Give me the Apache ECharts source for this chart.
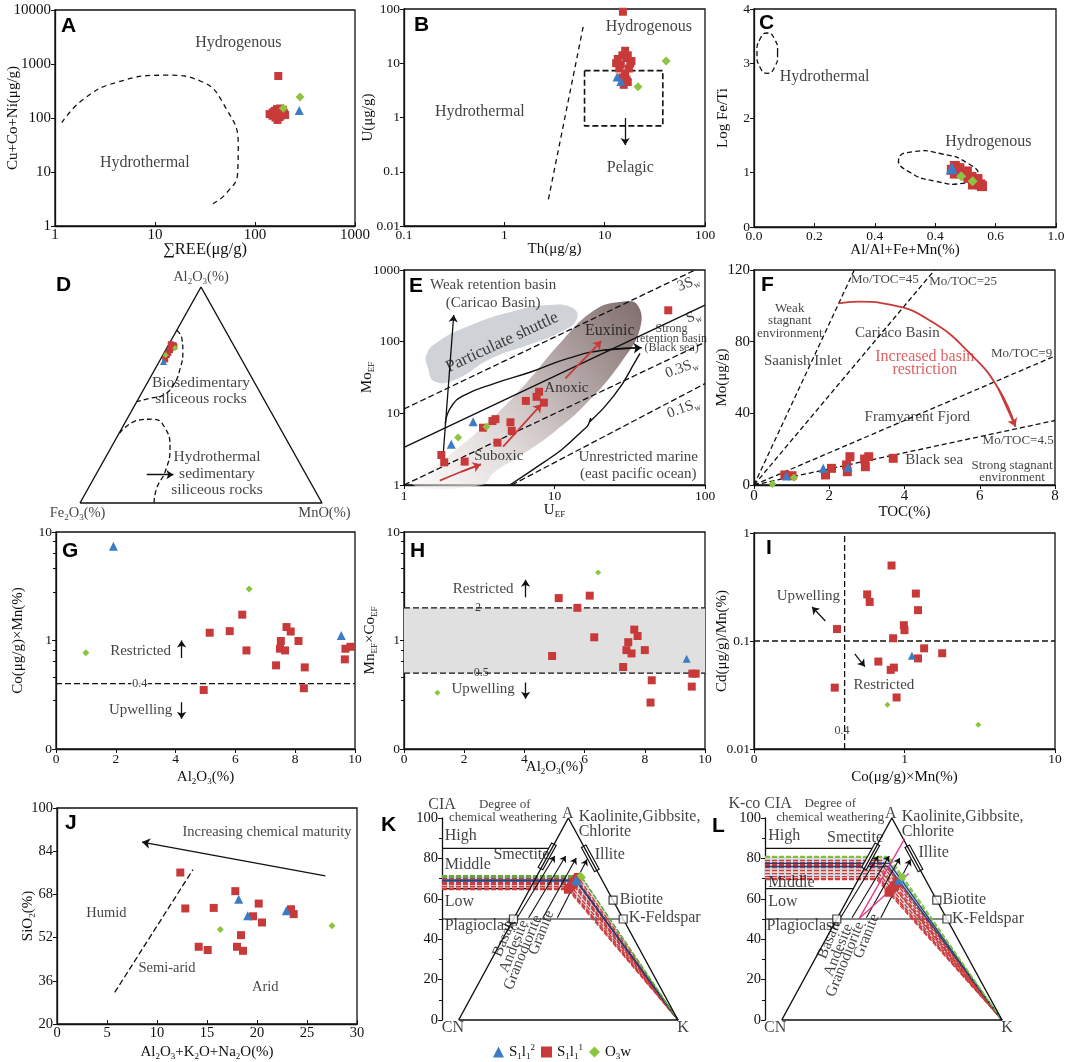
<!DOCTYPE html>
<html><head><meta charset="utf-8">
<script src="https://cdn.jsdelivr.net/npm/echarts@6.0.0/dist/echarts.min.js"></script>
<style>html,body{margin:0;padding:0;background:#fff;}#chart{width:1065px;height:1062px;}</style>
</head><body><div id="chart"></div>
<script>
// ================= DATA =================
// A : Cu+Co+Ni vs REE
const aRed=[[140,118],[150,126],[158,136],[166,146],[172,120],[180,110],[186,130],[195,122],[200,114],[160,102],[168,92],[176,104],[150,110],[190,142],[178,150],[155,128],[171,600]];
const aBlue=[[277,138]];
const aGreen=[[192,152],[282,245]];
const aBoundary=[[1.17,82],[1.92,222],[4.1,455],[13,620],[28,490],[52,145],[68,30],[67,9.6],[52,4.1],[38,2.6]];
const aNotes=[[68,2500,'Hydrogenous'],[7.9,15,'Hydrothermal']];
// B : U vs Th
const bRed=[[15.2,89],[16,17],[15,14],[13.5,12],[18.5,11],[14.5,9.5],[17.5,8],[16,6.5],[15,5.5],[17,4.5],[15.5,4],[18,10],[13,10],[16.5,12.5],[14,8],[17,14],[16.5,5]];
const bBlue=[[13.3,5.6],[14.5,4.6]];
const bGreen=[[41,11],[21.5,3.7]];
const bBoundary=[[2.75,0.031],[6.2,54]];
const bBox=[[6.3,7.3],[38,7.3],[38,0.7],[6.3,0.7],[6.3,7.3]];
const bArrow=[[16,0.98],[16,0.31]];
const bNotes=[[27.5,47,'Hydrogenous'],[0.57,1.29,'Hydrothermal'],[18,0.117,'Pelagic']];
// C : Log Fe/Ti vs Al/(Al+Fe+Mn)
const cTickLabels=['0.0','0.2','0.4','0.4','0.6','1.0'];
const cRed=[[0.655,1.05],[0.665,0.98],[0.68,1.08],[0.69,1.0],[0.70,0.95],[0.71,0.90],[0.72,0.92],[0.73,0.85],[0.74,0.80],[0.75,0.78],[0.755,0.75],[0.74,0.88],[0.725,0.78],[0.665,1.12],[0.705,1.02]];
const cBlue=[[0.655,1.08]];
const cGreen=[[0.686,0.93],[0.724,0.84]];
const cHydrothermal=[[0.078,3.19],[0.068,3.45],[0.044,3.56],[0.020,3.45],[0.010,3.19],[0.020,2.93],[0.044,2.82],[0.068,2.93]];
const cHydrogenous=[[0.742,0.94],[0.697,0.806],[0.601,0.84],[0.511,1.02],[0.479,1.245],[0.524,1.379],[0.620,1.344],[0.710,1.163]];
const cNotes=[[0.234,2.75,'Hydrothermal'],[0.776,1.56,'Hydrogenous']];
// D : ternary Al2O3 - Fe2O3 - MnO  (Al, Fe, Mn)
const dRed=[[73.1,24.8,2.1],[72,26.2,1.8],[70.8,27.4,1.8],[69.5,28.75,1.75],[68.5,29.85,1.65],[66.5,31.55,1.95],[73.5,25.75,0.75],[72.5,24.75,2.75]];
const dBlue=[[65.5,32.75,1.75]];
const dGreen=[[68.5,30.35,1.15],[71.8,24.8,3.4]];
const dFrame=[[0,0],[1,0],[0.5,1],[0,0]];
const dBio=[[0.4,0.8],[0.421,0.762],[0.425,0.7],[0.414,0.623],[0.386,0.546],[0.345,0.5],[0.29,0.485],[0.234,0.469]];
const dHydro=[[0.163,0.323],[0.248,0.385],[0.303,0.388],[0.352,0.346],[0.372,0.254],[0.352,0.146],[0.317,0.069],[0.306,0]];
const dArrow=[[0.276,0.131],[0.386,0.131]];
const dNotes=[[0.5,0.557,'Biosedimentary'],[0.5,0.482,'siliceous rocks'],[0.566,0.212,'Hydrothermal'],[0.566,0.134,'sedimentary'],[0.566,0.06,'siliceous rocks']];
const dApices=[[0.5,1.045,'Al{s|2}O{s|3}(%)'],[-0.01,-0.045,'Fe{s|2}O{s|3}(%)'],[1.01,-0.045,'MnO(%)']];
// E : MoEF vs UEF
const eRed=[[1.77,2.62],[1.85,2.07],[2.53,2.12],[3.35,6.3],[3.87,7.8],[4.05,8.3],[4.18,3.9],[5.1,7.5],[5.2,5.7],[6.45,14.9],[7.6,17],[7.9,20],[8.5,14.1],[57,274]];
const eBlue=[[2.06,3.7],[2.88,7.65]];
const eGreen=[[2.29,4.6],[3.53,6.5]];
const eRefDashed=[[[1,11.5],[86,1000]],[[1,1],[100,98]],[[5.2,1],[100,26]]];
const eSeawater=[[1,3.36],[100,324]];
const eShuttle=[[1.445,42.5],[1.41,65],[1.68,100],[2.8,171],[5.18,262],[9.08,325],[13.3,292],[14,200],[11.1,138],[6.68,90],[3.81,58.5],[2.17,29.2],[1.6,27.7]];
const eTrend=[[1.15,1],[1.77,2.12],[3.27,6.18],[6.03,22.3],[11.1,100],[18.5,276],[27.9,361],[35.6,325],[37,153],[27.9,52.6],[16.7,14.5],[10,5.55],[6.03,2.62],[4.01,1.53],[3.27,1]];
const eUpper=[[1.88,7.25],[2.06,12.4],[2.53,18],[4.01,26.2],[7.03,38],[12.3,58.5],[21.6,76.5],[37.9,82.5]];
const eLower=[[5.05,1],[7.4,1.71],[11.1,3.08],[15.1,5.55],[16.6,6.7],[17.4,8.6],[17.1,7.6],[21.6,12.4],[27.9,24.8],[33.4,47.3],[37,68.7]];
const eWeakArrow=[[1.82,2.62],[2.14,235]];
const eSuboxic=[[1.73,1.15],[2.4,1.53],[3.24,1.94]];
const eAnoxic=[[4.56,3.43],[8.2,13.4]];
const eEuxinic=[[11.8,30.8],[20.5,102]];
const eNotes=[[3.91,617,'Weak retention basin'],[3.91,343,'(Caricao Basin)'],[12,22.8,'Anoxic'],[4.26,2.57,'Suboxic'],[36,2.48,'Unrestricted marine'],[36,1.41,'(east pacific ocean)']];
const eEuxLabel=[[23.3,141,'Euxinic']];
const eShuttleLabel=[[4.49,98,'Particulate shuttle']];
const eBlackSea=[[60,153,'Strong'],[60,111,'retention basin'],[60,80.7,'(Black sea)']];
const eSwLabels=[[77.5,651,'3S{s|w}'],[84,224,'S{s|w}'],[70,42.5,'0.3S{s|w}'],[72,11.7,'0.1S{s|w}']];
// F : Mo vs TOC
const fRed=[[0.82,5.6],[1.01,5.2],[1.9,5.6],[2.06,9.3],[2.46,11.2],[2.55,15.8],[2.48,7.4],[2.94,14.5],[3.05,15.8],[2.96,10.2],[3.7,14.9]];
const fBlue=[[0.86,5.0],[1.84,9.3],[2.5,9.9]];
const fGreen=[[0.49,0.6],[1.06,4.1]];
const fRatios=[45,25,9,4.5];
const fArc=[[2.24,101.4],[2.77,102.3],[3.65,100.5],[4.72,91.2],[5.78,72.6],[6.49,54],[6.95,32.6]];
const fRatioLabels=[[3.48,114.4,'Mo/TOC=45'],[5.56,113.5,'Mo/TOC=25'],[7.11,73.5,'Mo/TOC=9'],[7.02,24.6,'Mo/TOC=4.5']];
const fSmall=[[0.95,98.6,'Weak'],[0.95,91.5,'stagnant'],[0.95,84.3,'environment'],[6.86,10.8,'Strong stagnant'],[6.86,4.1,'environment']];
const fBasins=[[3.81,84.6,'Cariaco Basin'],[1.3,69.2,'Saanish Inlet'],[4.34,37.8,'Framyarent Fjord'],[4.79,14,'Black sea']];
const fRedText=[[4.54,71.6,'Increased basin'],[4.54,64.2,'restriction']];
// G : Co x Mn vs Al2O3
const gRed=[[5.14,1.18],[5.81,1.22],[6.23,1.73],[6.37,0.81],[7.71,1.33],[7.85,1.21],[7.52,0.99],[7.49,0.84],[7.66,0.81],[8.11,0.99],[7.36,0.59],[8.32,0.565],[4.94,0.35],[8.29,0.363],[9.68,0.84],[9.85,0.875],[9.66,0.67]];
const gBlue=[[1.92,7.4],[9.54,1.11]];
const gGreen=[[1.0,0.77],[6.46,2.98]];
const gLimit=0.4;
const gNotes=[[2.83,0.8,'Restricted'],[2.83,0.23,'Upwelling']];
const gArrows=[[[4.2,0.69],[4.2,1.0]],[[4.2,0.27],[4.2,0.19]]];
const gLimitLabel=[[2.8,0.4,'0.4']];
// H : MnEF x CoEF vs Al2O3
const hRed=[[5.14,2.46],[6.17,2.59],[5.76,2.0],[6.32,1.07],[4.92,0.72],[7.65,1.26],[7.76,1.1],[7.45,0.965],[7.39,0.815],[7.56,0.76],[8.0,0.815],[7.28,0.57],[8.23,0.43],[8.19,0.268],[9.58,0.495],[9.69,0.495],[9.56,0.376]];
const hBlue=[[9.39,0.68]];
const hGreen=[[6.45,4.24],[1.11,0.33]];
const hBand=[0.5,2];
const hNotes=[[2.63,2.98,'Restricted'],[2.63,0.355,'Upwelling']];
const hArrows=[[[4.04,2.5],[4.04,3.63]],[[4.04,0.41],[4.04,0.29]]];
const hBandLabels=[[2.46,2,'2'],[2.57,0.5,'0.5']];
// I : Cd/Mn vs Co x Mn
const iRed=[[0.82,0.50],[0.565,0.27],[0.587,0.23],[1.19,0.275],[1.23,0.193],[0.99,0.14],[1.0,0.126],[0.84,0.106],[0.356,0.129],[1.35,0.0855],[1.78,0.077],[1.23,0.069],[0.67,0.0645],[0.85,0.0567],[0.81,0.054],[0.344,0.037],[0.886,0.030]];
const iBlue=[[1.12,0.073]];
const iGreen=[[0.77,0.0257],[3.09,0.0168]];
const iLimitX=0.4, iLimitY=0.1;
const iNotes=[[0.23,0.26,'Upwelling'],[0.73,0.039,'Restricted']];
const iArrows=[[[0.298,0.153],[0.243,0.207]],[[0.467,0.076],[0.545,0.058]]];
const iLimitLabel=[[0.385,0.0146,'0.4']];
// J : SiO2 vs Al2O3+K2O+Na2O
const jRed=[[12.33,76.1],[12.83,62.8],[15.67,63.0],[17.83,69.2],[20.17,64.6],[19.6,59.9],[20.5,57.6],[18.4,52.9],[14.17,48.6],[15.07,47.4],[18.0,48.6],[18.6,47.1],[23.4,62.5],[23.67,60.7]];
const jBlue=[[18.17,66.2],[19.07,60.1],[22.93,61.9]];
const jGreen=[[16.33,55.0],[27.5,56.4]];
const jBoundary=[[5.77,31.7],[13.6,77.2]];
const jArrow=[[26.83,74.9],[8.5,87.4]];
const jNotes=[[21,90.9,'Increasing chemical maturity'],[4.93,61.2,'Humid'],[11,40.8,'Semi-arid'],[20.83,33.8,'Arid']];
// K, L : A-CN-K diagrams  (x along CN-K, y = CIA)
const CIA_AXIS_X=-7.6;
const akFrame=[[0,0],[100,0],[50,100],[0,0]];
const akLevels=[[85,42.5],[65,32.5],[50,75]];       // [CIA, end x]
const akMinerals=[[25,50],[75,50],[70.4,59.3]];     // Plagioclase, K-Feldspar, Biotite
const akSmectite=[[37.3,75],[43.4,87]];
const akIllite=[[57,86],[63,74]];
const akRocks=[[[26.7,50.6],[43.8,81.2]],[[31.9,50.6],[48.8,81.2]],[[38.4,50.6],[53.6,80.2]],[[45,50.6],[58.5,79.4]]];
const kRed=[[49.8,64.5],[50.5,65.3],[51.2,66.2],[52,67.2],[52.6,68],[53.2,69],[53.8,70],[54.4,70.8],[50.2,65],[52.4,67.6]];
const kBlue=[[53.4,69.3],[54,68.8]];
const kGreen=[[55.6,71.4],[56.2,70.6]];
const lRed=[[48.5,63,69.5],[49.3,64,71],[50,64.8,72.5],[50.8,65.8,74],[51.5,66.6,75.5],[52.2,67.4,77],[52.8,68.2,78],[49,63.5,70],[51,66,76.5],[52.5,68.8,79]]; // [x, CIA, K-corrected CIA]
const lBlue=[[53,69.2,76],[53.8,70,77.5]];
const lGreen=[[54.5,70.5,81],[55,71,80.5]];
const lPink=[[[35.2,50.3],[55.8,89.8]],[[35.2,50.3],[57.6,72.5]]];
const kCenter=[[CIA_AXIS_X,106.6,'CIA'],[49.8,102.3,'A'],[28.6,81.9,'Smectite'],[-2.6,-4.1,'CN'],[102.3,-4.1,'K']];
const kLeft=[[54.7,100.5,'Kaolinite,Gibbsite,'],[54.7,93.1,'Chlorite'],[-6.4,91.4,'High'],[-6.4,76.6,'Middle'],[-6.4,58.5,'Low'],[-6.4,46.6,'Plagioclase'],[62,81.9,'Illite'],[73.4,59.3,'Biotite'],[77.5,50.6,'K-Feldspar']];
const kDegree=[[21,106.6,'Degree of'],[20.2,100,'chemical weathering']];
const kRockLabels=[[20.8,40.5,'Basalt'],[25.2,36.4,'Andesite'],[29.3,33.4,'Granodiorite'],[37.7,43.2,'Granite']];
const lCenter=[[-9.8,107,'K-co CIA'],[49.5,102.3,'A'],[33.3,90.1,'Smectite'],[-3,-4.1,'CN'],[102.3,-4.1,'K']];
const lLeft=[[54.5,100.5,'Kaolinite,Gibbsite,'],[54.5,93.1,'Chlorite'],[-6.1,91.4,'High'],[-6.1,68,'Middle'],[-6.1,58.5,'Low'],[-6.9,46.6,'Plagioclase'],[62.1,82.9,'Illite'],[73,59.3,'Biotite'],[77.3,50.2,'K-Feldspar']];
const lDegree=[[22,107,'Degree of'],[22,100,'chemical weathering']];
const lRockLabels=[[21.5,39.5,'Basalt'],[25.8,34.6,'Andesite'],[28.8,30,'Granodiorite'],[38.5,41.5,'Granite']];
const legendNames={'S1l12':'S{sb|1}l{sb|1}{sp|2}','S1l11':'S{sb|1}l{sb|1}{sp|1}','O3w':'O{sb|3}w'};

// ================= STYLE / HELPERS =================
const FONT='"Liberation Serif","Times New Roman",serif';
const INK='#111', RED='#c83a3a', BLUE='#3c7cc4', GREEN='#8cc43f', PINK='#e8338a';
const RICH={s:{fontSize:9,verticalAlign:'bottom',lineHeight:10,fontFamily:FONT,color:INK},p:{fontSize:9,verticalAlign:'top',lineHeight:10,fontFamily:FONT,color:INK}};
const series=[];
const KIND={r:{symbol:'rect',color:RED,name:'S1l11'},b:{symbol:'triangle',color:BLUE,name:'S1l12'},g:{symbol:'diamond',color:GREEN,name:'O3w'}};
function pts(gi,data,k,size){const m=KIND[k];series.push({type:'scatter',name:m.name,xAxisIndex:gi,yAxisIndex:gi,data:data,symbol:m.symbol,symbolSize:size,itemStyle:{color:m.color,opacity:1},z:10,clip:false,silent:true});}
function line(gi,data,o){o=o||{};series.push({type:'line',xAxisIndex:gi,yAxisIndex:gi,data:data,symbol:'none',showSymbol:false,smooth:o.smooth||false,silent:true,clip:false,z:o.z||4,lineStyle:{color:o.color||INK,width:o.width||1.3,type:o.dash?(o.dashArr||[5,3]):'solid'},emphasis:{disabled:true}});}
function arrow(gi,a,b,o){o=o||{};series.push({type:'lines',coordinateSystem:'cartesian2d',xAxisIndex:gi,yAxisIndex:gi,silent:true,z:o.z||6,symbol:['none','arrow'],symbolSize:o.size||8,lineStyle:{color:o.color||INK,width:o.width||1.3,opacity:1,curveness:0},data:[{coords:[a,b]}]});}
function poly(gi,p,st,smooth){series.push({type:'custom',xAxisIndex:gi,yAxisIndex:gi,silent:true,z:st.z||1,clip:false,data:[p[0]],
  renderItem:function(params,api){return {type:'polygon',shape:{points:p.map(function(d){return api.coord(d);}),smooth:smooth||0},style:{fill:st.fill||'none',stroke:st.stroke||'none',lineWidth:st.lw||1.3,lineDash:st.dash||null}};}});}
function bar(gi,seg,half){series.push({type:'custom',xAxisIndex:gi,yAxisIndex:gi,silent:true,z:7,clip:false,data:[seg[0]],
  renderItem:function(params,api){const a=api.coord(seg[0]),b=api.coord(seg[1]);const dx=b[0]-a[0],dy=b[1]-a[1],L=Math.hypot(dx,dy);const px=-dy/L*half,py=dx/L*half;
    return {type:'polygon',shape:{points:[[a[0]+px,a[1]+py],[b[0]+px,b[1]+py],[b[0]-px,b[1]-py],[a[0]-px,a[1]-py]]},style:{fill:'#fff',stroke:INK,lineWidth:1.2}};}});}
function text(gi,list,o){o=o||{};series.push({type:'scatter',xAxisIndex:gi,yAxisIndex:gi,symbolSize:0,silent:true,clip:false,z:o.z||12,
  data:list.map(function(t){return {value:[t[0],t[1]],label:{show:true,formatter:t[2],position:o.left?'right':'inside',distance:0,color:o.color||INK,fontSize:o.size||15,fontFamily:FONT,fontWeight:o.weight||'normal',rotate:o.rotate||0,lineHeight:o.lh||18,backgroundColor:o.bg||'transparent',padding:o.pad||0,rich:RICH}};})});}
function tern(p){const s=p[0]+p[1]+p[2];const al=p[0]/s,mn=p[2]/s;return [mn+al/2,al];}
function merge(a,b){for(const k in b){const v=b[k];if(v&&typeof v==='object'&&!Array.isArray(v)&&a[k]&&typeof a[k]==='object'){merge(a[k],v);}else a[k]=v;}return a;}
function num(v){return String(+(+v).toPrecision(6));}
function zeroLog(v){return v<0.5?'0':num(v);}
const xAxes=[],yAxes=[];
function base(gi){return {gridIndex:gi,type:'value',nameMoveOverlap:false,axisLine:{show:true,onZero:false,lineStyle:{color:INK,width:1.3}},axisTick:{show:true,length:4,lineStyle:{color:INK,width:1}},splitLine:{show:false},minorTick:{show:false},minorSplitLine:{show:false},
  axisLabel:{color:INK,fontSize:13.5,fontFamily:FONT,margin:4,formatter:num},nameLocation:'middle',nameTextStyle:{color:INK,fontSize:15,fontFamily:FONT,lineHeight:18,rich:RICH}};}
function X(gi,o){xAxes.push(merge(base(gi),o));}
function Y(gi,o){yAxes.push(merge(base(gi),o));}
const TICK_IN={show:true,inside:true,length:4};

// ================= LAYOUT =================
const GRIDS=[
 {left:55,top:10,width:300,height:216},
 {left:404,top:9,width:301,height:217},
 {left:754,top:9,width:302,height:218},
 {left:80,top:287,width:242,height:216},
 {left:404,top:270,width:301,height:215},
 {left:754,top:270,width:301,height:215},
 {left:56,top:532,width:299,height:217},
 {left:404,top:532,width:301,height:217},
 {left:754,top:533,width:301,height:216},
 {left:57,top:808,width:300,height:216},
 {left:442,top:818,width:236,height:202},
 {left:765,top:818,width:237,height:202}
].map(function(g,i){return Object.assign(g,{show:[3,10,11].indexOf(i)<0,borderColor:INK,borderWidth:1.3,backgroundColor:'transparent',containLabel:false,outerBoundsMode:'none'});});
const LETTERS=[['A',61,16],['B',414,15],['C',759,13],['D',56,275],['E',409,276],['F',761,275],['G',62,541],['H',410,541],['I',766,538],['J',65,813],['K',381,815],['L',712,816]];

// ================= AXES =================
X(0,{type:'log',logBase:10,min:1,max:1000,axisTick:TICK_IN,axisLabel:{fontSize:15,margin:2},name:'∑REE(μg/g)',nameGap:15,nameTextStyle:{fontSize:16.5}});
Y(0,{type:'log',logBase:10,min:1,max:10000,axisLabel:{fontSize:15},name:'Cu+Co+Ni(μg/g)',nameGap:33});
X(1,{type:'log',logBase:10,min:0.1,max:100,axisTick:TICK_IN,axisLabel:{margin:2},name:'Th(μg/g)',nameGap:14});
Y(1,{type:'log',logBase:10,min:0.01,max:100,name:'U(μg/g)',nameGap:27});
X(2,{min:0,max:1,interval:0.2,axisTick:TICK_IN,axisLabel:{margin:2,formatter:function(v){return cTickLabels[Math.round(v/0.2)];}},name:'Al/Al+Fe+Mn(%)',nameGap:14});
Y(2,{min:0,max:4,interval:1,name:'Log Fe/Ti',nameGap:22});
X(3,{show:false,min:0,max:1});Y(3,{show:false,min:0,max:1});
X(4,{type:'log',logBase:10,min:1,max:100,name:'U{s|EF}',nameGap:16});
Y(4,{type:'log',logBase:10,min:1,max:1000,name:'Mo{s|EF}',nameGap:28});
X(5,{min:0,max:8,interval:2,axisLabel:{fontSize:15},name:'TOC(%)',nameGap:18});
Y(5,{min:0,max:120,interval:40,axisLabel:{fontSize:15},name:'Mo(μg/g)',nameGap:23});
X(6,{min:0,max:10,interval:2,axisLabel:{margin:3},name:'Al{s|2}O{s|3}(%)',nameGap:19});
Y(6,{type:'log',logBase:10,min:0.1,max:10,axisLabel:{formatter:zeroLog},minorTick:{show:true,splitNumber:5,length:3,lineStyle:{color:INK}},name:'Co(μg/g)×Mn(%)',nameGap:29});
X(7,{min:0,max:10,interval:2,axisLabel:{margin:3},name:'Al{s|2}O{s|3}(%)',nameGap:9});
Y(7,{type:'log',logBase:10,min:0.1,max:10,axisLabel:{formatter:zeroLog},minorTick:{show:true,splitNumber:5,length:3,lineStyle:{color:INK}},name:'Mn{s|EF}×Co{s|EF}',nameGap:25});
X(8,{type:'log',logBase:10,min:0.1,max:10,axisLabel:{margin:3,formatter:zeroLog},name:'Co(μg/g)×Mn(%)',nameGap:19});
Y(8,{type:'log',logBase:10,min:0.01,max:1,name:'Cd(μg/g)/Mn(%)',nameGap:23});
X(9,{min:0,max:30,interval:5,axisTick:TICK_IN,axisLabel:{fontSize:14.5,margin:2},name:'Al{s|2}O{s|3}+K{s|2}O+Na{s|2}O(%)',nameGap:19});
Y(9,{min:20,max:100,interval:16,axisLabel:{fontSize:14.5},name:'SiO{s|2}(%)',nameGap:20});
[10,11].forEach(function(gi){
  X(gi,{show:false,min:CIA_AXIS_X,max:100});
  Y(gi,{min:0,max:100,interval:20,axisLabel:{fontSize:14.5},minorTick:{show:true,splitNumber:2,length:3,lineStyle:{color:INK}}});
});

// ================= SERIES =================
// A
line(0,aBoundary,{dash:true,smooth:true,dashArr:[5,4]});
text(0,aNotes,{size:16});
pts(0,aRed,'r',8);pts(0,aBlue,'b',9);pts(0,aGreen,'g',9);
// B
line(1,bBoundary,{dash:true,dashArr:[5,4]});
line(1,bBox,{dash:true,width:1.6,dashArr:[6,3]});
arrow(1,bArrow[0],bArrow[1],{size:7});
text(1,bNotes,{size:16});
pts(1,bRed,'r',8);pts(1,bBlue,'b',9);pts(1,bGreen,'g',9);
// C
poly(2,cHydrothermal,{stroke:INK,dash:[5,3],lw:1.3},0.6);
poly(2,cHydrogenous,{stroke:INK,dash:[5,3],lw:1.3},0.6);
text(2,cNotes,{size:16});
pts(2,cRed,'r',10);pts(2,cBlue,'b',12);pts(2,cGreen,'g',10);
// D
line(3,dFrame,{width:1.4});
line(3,dBio,{dash:true,smooth:true});
line(3,dHydro,{dash:true,smooth:true});
arrow(3,dArrow[0],dArrow[1],{size:7});
text(3,dNotes,{size:15.5});
text(3,dApices,{size:14.5});
pts(3,dRed.map(tern),'r',6);pts(3,dBlue.map(tern),'b',7);pts(3,dGreen.map(tern),'g',6);
// E
poly(4,eShuttle,{fill:'#cfd2d6',z:1},0.5);
poly(4,eTrend,{fill:new echarts.graphic.LinearGradient(0,1,1,0,[{offset:0,color:'rgba(246,243,243,0.5)'},{offset:0.45,color:'#d3caca'},{offset:1,color:'#806c6c'}]),z:1},0.45);
eRefDashed.forEach(function(s){line(4,s,{dash:true,dashArr:[6,3]});});
line(4,eSeawater,{width:1.4});
line(4,eUpper,{smooth:true,width:1.4});
arrow(4,eUpper[eUpper.length-2],eUpper[eUpper.length-1],{size:8});
line(4,eLower,{smooth:0.3,width:1.4});
arrow(4,eWeakArrow[0],eWeakArrow[1],{size:7});
line(4,eSuboxic,{smooth:true,color:RED,width:1.8});
arrow(4,eSuboxic[1],eSuboxic[2],{color:RED,width:1.8,size:8});
arrow(4,eAnoxic[0],eAnoxic[1],{color:RED,width:1.8,size:8});
arrow(4,eEuxinic[0],eEuxinic[1],{color:RED,width:1.8,size:8});
text(4,eNotes,{size:15});
text(4,eEuxLabel,{size:16});
text(4,eShuttleLabel,{size:17,rotate:25});
text(4,eBlackSea,{size:12,lh:12});
text(4,eSwLabels,{size:15,rotate:20});
pts(4,eRed,'r',8);pts(4,eBlue,'b',9);pts(4,eGreen,'g',8);
// F
fRatios.forEach(function(r){const xe=Math.min(8,120/r);line(5,[[0,0],[xe,r*xe]],{dash:true,dashArr:[5,3]});});
line(5,fArc,{smooth:true,color:RED,width:1.8});
arrow(5,fArc[fArc.length-2],fArc[fArc.length-1],{color:RED,width:1.8,size:8});
text(5,fRatioLabels,{size:13});
text(5,fSmall,{size:13});
text(5,fBasins,{size:15});
text(5,fRedText,{size:16,color:'#d23a3a'});
pts(5,fRed,'r',9);pts(5,fBlue,'b',9);pts(5,fGreen,'g',8);
// G
line(6,[[0,gLimit],[10,gLimit]],{dash:true,dashArr:[6,3]});
gArrows.forEach(function(a){arrow(6,a[0],a[1],{size:7});});
text(6,gNotes,{size:15});
text(6,gLimitLabel,{size:12,bg:'#fff',pad:[0,1]});
pts(6,gRed,'r',8);pts(6,gBlue,'b',9);pts(6,gGreen,'g',7);
// H
poly(7,[[0,hBand[0]],[10,hBand[0]],[10,hBand[1]],[0,hBand[1]]],{fill:'#e0e0e0',z:1},0);
hBand.forEach(function(v){line(7,[[0,v],[10,v]],{dash:true,dashArr:[6,3]});});
hArrows.forEach(function(a){arrow(7,a[0],a[1],{size:7});});
text(7,hNotes,{size:15});
text(7,hBandLabels,{size:12});
pts(7,hRed,'r',8);pts(7,hBlue,'b',8);pts(7,hGreen,'g',6);
// I
line(8,[[iLimitX,0.01],[iLimitX,1]],{dash:true,dashArr:[6,3]});
line(8,[[0.1,iLimitY],[10,iLimitY]],{dash:true,dashArr:[6,3]});
iArrows.forEach(function(a){arrow(8,a[0],a[1],{size:7});});
text(8,iNotes,{size:15});
text(8,iLimitLabel,{size:12});
pts(8,iRed,'r',8);pts(8,iBlue,'b',8);pts(8,iGreen,'g',6);
// J
line(9,jBoundary,{dash:true,dashArr:[6,3]});
arrow(9,jArrow[0],jArrow[1],{size:8});
text(9,jNotes,{size:14.5});
pts(9,jRed,'r',8);pts(9,jBlue,'b',9);pts(9,jGreen,'g',7);
// K & L shared frame
function akFrameDraw(gi){
  line(gi,akFrame,{width:1.4,z:8});
  akLevels.forEach(function(l){line(gi,[[CIA_AXIS_X,l[0]],[l[1],l[0]]],{width:1.2,z:3});});
  akRocks.forEach(function(r){arrow(gi,r[0],r[1],{size:6,width:1.1,z:7});});
  bar(gi,akSmectite,2.6);bar(gi,akIllite,2.6);
  series.push({type:'scatter',xAxisIndex:gi,yAxisIndex:gi,data:akMinerals,symbol:'rect',symbolSize:8,itemStyle:{color:'#fff',borderColor:INK,borderWidth:1.2},z:9,silent:true,clip:false});
}
function sampleLine(gi,pt,y0,color,dash,w){const tx=100-(100-pt[0])*y0/pt[1];line(gi,[[CIA_AXIS_X,y0],[tx,y0],[100,0]],{color:color,dash:dash,width:w||1.2,dashArr:[5,2],z:5});return tx;}
// K
(function(){
  const all=kRed.concat(kBlue,kGreen);
  const top=all.reduce(function(a,b){return b[1]>a[1]?b:a;}),bot=all.reduce(function(a,b){return b[1]<a[1]?b:a;});
  poly(10,[[CIA_AXIS_X,top[1]],top,[100,0],bot,[CIA_AXIS_X,bot[1]]],{fill:'#d9dbe0',z:2},0);
  akFrameDraw(10);
  kRed.forEach(function(p){sampleLine(10,p,p[1],'#cf3b3b',true,1.3);});
  kBlue.forEach(function(p){sampleLine(10,p,p[1],'#23407a',false,1.3);});
  kGreen.forEach(function(p){sampleLine(10,p,p[1],'#5fae3a',true,1.3);});
  text(10,kCenter,{size:16});text(10,kLeft,{size:16,left:true});text(10,kDegree,{size:13,lh:14});
  text(10,kRockLabels,{size:15.5,rotate:68});
  pts(10,kRed,'r',8);pts(10,kBlue,'b',9);pts(10,kGreen,'g',8);
})();
// L
(function(){
  const all=lRed.concat(lBlue,lGreen);
  const top=all.reduce(function(a,b){return b[2]>a[2]?b:a;}),bot=all.reduce(function(a,b){return b[2]<a[2]?b:a;});
  const txT=100-(100-top[0])*top[2]/top[1],txB=100-(100-bot[0])*bot[2]/bot[1];
  poly(11,[[CIA_AXIS_X,top[2]],[txT,top[2]],[100,0],[txB,bot[2]],[CIA_AXIS_X,bot[2]]],{fill:'#d9dbe0',z:2},0);
  akFrameDraw(11);
  lRed.forEach(function(p){sampleLine(11,p,p[2],'#cf3b3b',true,1.3);});
  lBlue.forEach(function(p){sampleLine(11,p,p[2],'#23407a',false,1.3);});
  lGreen.forEach(function(p){sampleLine(11,p,p[2],'#7cc142',true,1.3);});
  lPink.forEach(function(s){line(11,s,{color:PINK,width:1.3,z:8});});
  text(11,lCenter,{size:16});text(11,lLeft,{size:16,left:true});text(11,lDegree,{size:13,lh:14});
  text(11,lRockLabels,{size:15.5,rotate:68});
  const xy=function(p){return [p[0],p[1]];};
  pts(11,lRed.map(xy),'r',8);pts(11,lBlue.map(xy),'b',9);pts(11,lGreen.map(xy),'g',8);
})();

// ================= CHART =================
const chart=echarts.init(document.getElementById('chart'),null,{renderer:'canvas'});
chart.setOption({
  animation:false,backgroundColor:'#fff',
  title:LETTERS.map(function(l){return {text:l[0],left:l[1],top:l[2],padding:0,textStyle:{fontFamily:'"Liberation Sans",Arial,sans-serif',fontWeight:'bold',fontSize:21,color:'#000'}};}),
  grid:GRIDS,xAxis:xAxes,yAxis:yAxes,
  legend:{left:488,top:1038,itemGap:6,itemWidth:11,itemHeight:11,selectedMode:false,
    data:[{name:'S1l12',icon:'triangle'},{name:'S1l11',icon:'rect'},{name:'O3w',icon:'diamond'}],
    formatter:function(n){return legendNames[n];},
    textStyle:{fontFamily:FONT,fontSize:15,color:INK,lineHeight:18,rich:{sb:{fontSize:9,verticalAlign:'bottom',lineHeight:10,fontFamily:FONT,color:INK},sp:{fontSize:9,verticalAlign:'top',lineHeight:10,fontFamily:FONT,color:INK}}}},
  series:series
});
</script></body></html>
